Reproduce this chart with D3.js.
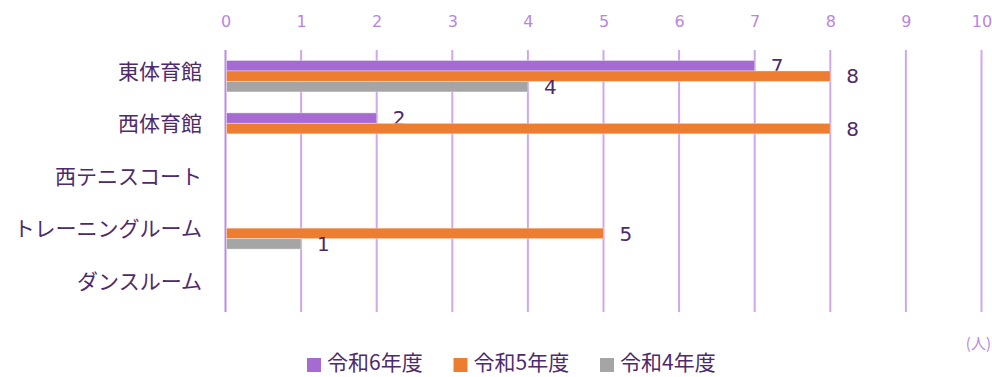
<!DOCTYPE html>
<html><head><meta charset="utf-8">
<script src="https://cdn.jsdelivr.net/npm/d3@7"></script>
<style>
html,body{margin:0;padding:0;background:#fff;}
svg{display:block;}
</style></head>
<body>
<svg id="chart" width="992" height="377"></svg>
<script>
const categories = ["東体育館","西体育館","西テニスコート","トレーニングルーム","ダンスルーム"];
const seriesNames = ["令和6年度","令和5年度","令和4年度"];
const r6 = [7, 2, null, null, null];
const r5 = [8, 8, null, 5, null];
const r4 = [4, null, null, 1, null];
const seriesValues = [r6, r5, r4];
const xTicks = [0,1,2,3,4,5,6,7,8,9,10];
const unitLabel = "(人)";
const colors = ["#a66bd3", "#ed7d31", "#a5a5a5"];

const svg = d3.select("#chart");
const plotLeft = 225.5, plotRight = 981.5, plotTop = 50, plotBottom = 312;
const x = d3.scaleLinear().domain([0, 10]).range([plotLeft, plotRight]);
const y = d3.scaleBand().domain(categories).range([plotTop, plotBottom]).padding(0);
const bw = y.bandwidth();
const yi = d3.scaleBand().domain(seriesNames).range([bw*0.2, bw*0.8]).padding(0);

const cjk = "'Noto Sans CJK JP', 'Noto Sans', sans-serif";
const latin = "'DejaVu Sans', 'Noto Sans CJK JP', sans-serif";

// gridlines
svg.append("g").selectAll("line").data(xTicks).join("line")
  .attr("x1", d => x(d)).attr("x2", d => x(d))
  .attr("y1", plotTop).attr("y2", plotBottom)
  .attr("stroke", d => d === 0 ? "#b98be3" : "#cfa7ee")
  .attr("stroke-width", 2);

// top axis labels
const axis = d3.axisTop(x).tickValues(xTicks).tickSize(0).tickPadding(0).tickFormat(d3.format("d"));
const ag = svg.append("g").attr("transform", `translate(0,${27})`).call(axis);
ag.select(".domain").remove();
ag.selectAll("text").attr("font-family", latin).attr("font-size", 16).attr("fill", "#b886e2");

// category labels
const yAxis = d3.axisLeft(y).tickSize(0).tickPadding(0);
const yg = svg.append("g").attr("transform", `translate(${202},-4)`).call(yAxis);
yg.select(".domain").remove();
yg.selectAll("text").attr("font-family", cjk).attr("font-size", 21).attr("fill", "#4e2a6c");

// bars
seriesNames.forEach((s, si) => {
  const data = categories.map((c, i) => ({c, v: seriesValues[si][i]})).filter(d => d.v != null);
  const g = svg.append("g");
  g.selectAll("rect").data(data).join("rect")
    .attr("x", x(0) + 1)
    .attr("y", d => y(d.c) + yi(s))
    .attr("width", d => x(d.v) - x(0) - 1)
    .attr("height", yi.bandwidth())
    .attr("fill", colors[si])
    .attr("stroke", "rgba(255,255,255,0.35)")
    .attr("stroke-width", 1);
  g.selectAll("text").data(data).join("text")
    .attr("x", d => x(d.v) + 16)
    .attr("y", d => y(d.c) + yi(s) + yi.bandwidth()/2)
    .attr("dy", "0.36em")
    .attr("font-family", latin).attr("font-size", 20)
    .attr("fill", "#4e2a6c")
    .text(d => d.v);
});

// unit label
svg.append("text").attr("x", 991).attr("y", 349).attr("text-anchor", "end")
  .attr("font-family", cjk).attr("font-size", 15).attr("fill", "#b886e2").text(unitLabel);

// legend
const lx = d3.scalePoint().domain(seriesNames).range([307, 600]);
const lg = svg.append("g").selectAll("g").data(seriesNames).join("g")
  .attr("transform", d => `translate(${lx(d)},358)`);
lg.append("rect").attr("width", 14).attr("height", 14).attr("fill", (d, i) => colors[i]);
lg.append("text").attr("x", 20).attr("y", 4).attr("dy", "0.36em")
  .attr("font-family", cjk).attr("font-size", 21).attr("fill", "#4e2a6c").text(d => d);
</script>
</body></html>
